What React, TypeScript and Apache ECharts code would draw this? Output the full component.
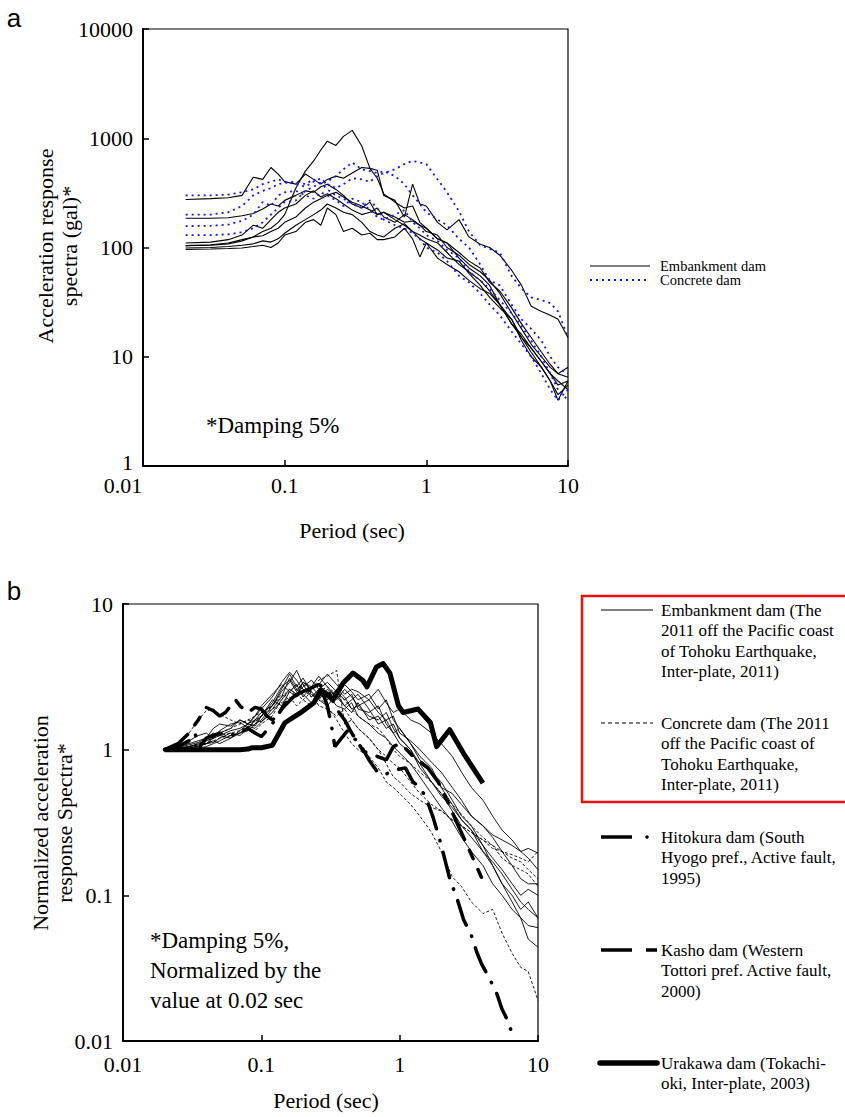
import React, { useEffect, useRef } from "react";
import * as echarts from "echarts";

// ---------- Panel a : acceleration response spectra (gal) ----------
const periodsA = [0.02, 0.03, 0.04, 0.05, 0.06, 0.07, 0.08, 0.09, 0.1, 0.12, 0.14, 0.16, 0.18, 0.2, 0.23, 0.26, 0.3, 0.35, 0.4, 0.45, 0.5, 0.6, 0.7, 0.8, 0.9, 1, 1.2, 1.4, 1.7, 2, 2.4, 2.8, 3.3, 4, 4.7, 5.5, 6.5, 7.5, 8.5, 10];

const embankA1 = [104, 106, 110, 118, 125, 140, 150, 170, 200, 350, 500, 620, 780, 940, 860, 1040, 1180, 850, 530, 430, 310, 260, 230, 240, 170, 150, 120, 110, 80, 65, 55, 45, 30, 22, 15, 12, 9, 7, 6, 5];
const embankA2 = [275, 280, 285, 300, 440, 420, 540, 470, 400, 380, 470, 420, 380, 420, 450, 430, 480, 540, 530, 510, 300, 270, 190, 380, 250, 240, 170, 145, 180, 125, 107, 100, 85, 62, 45, 29, 26, 24, 22, 15];
const embankA3 = [185, 185, 187, 195, 205, 225, 250, 240, 270, 300, 330, 320, 360, 380, 340, 300, 250, 230, 260, 200, 210, 190, 170, 175, 160, 150, 120, 110, 90, 75, 65, 48, 40, 28, 20, 15, 11, 8.5, 7, 6.5];
const embankA4 = [110, 112, 118, 130, 160, 150, 180, 210, 230, 250, 300, 330, 290, 310, 280, 250, 220, 200, 210, 230, 190, 170, 200, 180, 160, 140, 130, 100, 85, 70, 60, 50, 38, 25, 18, 13, 10, 8, 7, 8];
const embankA5 = [104, 105, 108, 115, 125, 128, 140, 150, 170, 190, 230, 260, 280, 300, 320, 290, 260, 240, 220, 200, 210, 180, 160, 140, 130, 120, 110, 90, 70, 60, 50, 40, 30, 20, 16, 12, 9, 7, 5.5, 6];
const embankA6 = [99, 100, 102, 105, 108, 115, 112, 120, 135, 160, 180, 200, 220, 250, 230, 210, 200, 170, 140, 130, 125, 150, 165, 140, 120, 110, 95, 80, 75, 58, 45, 35, 28, 22, 14, 10, 8, 6, 4.5, 5.5];
const embankA7 = [96, 97, 98, 99, 102, 105, 100, 110, 130, 140, 170, 180, 160, 230, 200, 140, 150, 130, 135, 118, 118, 125, 150, 120, 82, 110, 80, 70, 60, 50, 42, 38, 30, 20, 15, 11, 8, 6, 4, 6];

const concreteA1 = [300, 300, 305, 320, 340, 380, 400, 420, 400, 380, 360, 400, 430, 380, 350, 380, 430, 420, 400, 450, 480, 520, 580, 620, 600, 580, 420, 320, 215, 140, 105, 97, 90, 55, 42, 35, 33, 31, 26, 15];
const concreteA2 = [200, 200, 210, 240, 300, 330, 350, 380, 390, 400, 380, 420, 380, 400, 450, 520, 600, 520, 500, 480, 500, 450, 380, 300, 250, 210, 180, 160, 120, 100, 70, 50, 45, 30, 22, 18, 14, 10, 8, 7];
const concreteA3 = [157, 158, 162, 175, 200, 260, 240, 300, 320, 330, 300, 280, 320, 300, 270, 240, 280, 260, 220, 190, 180, 200, 220, 170, 150, 130, 115, 95, 80, 60, 50, 42, 33, 25, 19, 14, 10, 7, 5, 4];
const concreteA4 = [130, 130, 132, 138, 150, 170, 200, 230, 260, 270, 330, 360, 390, 340, 300, 280, 250, 230, 270, 230, 180, 160, 150, 135, 120, 100, 90, 75, 55, 48, 38, 30, 24, 17, 13, 10, 7, 5, 4, 5];

// ---------- Panel b : normalized spectra ----------
const periodsB = [0.02, 0.025, 0.03, 0.035, 0.04, 0.045, 0.05, 0.06, 0.07, 0.08, 0.09, 0.1, 0.12, 0.14, 0.16, 0.18, 0.2, 0.23, 0.26, 0.3, 0.35, 0.4, 0.45, 0.5, 0.6, 0.7, 0.8, 0.9, 1, 1.2, 1.4, 1.7, 2, 2.4, 2.8, 3.3, 4, 4.7, 5.5, 6.5, 7.5, 8.5, 10];

const embankB1 = [1, 1.05, 1.1, 1.15, 1.2, 1.3, 1.25, 1.35, 1.4, 1.5, 1.7, 1.9, 2.3, 2.9, 3.4, 3.0, 2.6, 2.4, 2.2, 2.6, 2.3, 2.8, 2.5, 2.2, 2.4, 1.9, 2.2, 1.6, 1.4, 1.1, 0.9, 0.75, 0.55, 0.5, 0.42, 0.35, 0.3, 0.26, 0.24, 0.22, 0.2, 0.21, 0.195];
const embankB2 = [1, 1.02, 1.05, 1.1, 1.15, 1.2, 1.3, 1.4, 1.6, 1.5, 1.6, 1.8, 2.0, 2.6, 3.3, 2.7, 3.1, 2.5, 2.2, 2.0, 2.4, 2.0, 1.8, 2.1, 1.6, 1.7, 1.4, 1.5, 1.2, 1.0, 0.8, 0.6, 0.5, 0.38, 0.3, 0.25, 0.2, 0.16, 0.12, 0.1, 0.08, 0.09, 0.07];
const embankB3 = [1, 1.0, 1.02, 1.05, 1.1, 1.15, 1.1, 1.2, 1.3, 1.45, 1.4, 1.55, 1.8, 2.2, 2.6, 2.4, 2.7, 3.0, 2.6, 2.9, 2.5, 2.2, 2.4, 1.9, 1.8, 2.0, 1.5, 1.3, 1.4, 1.1, 0.85, 0.7, 0.6, 0.45, 0.35, 0.3, 0.22, 0.16, 0.12, 0.09, 0.07, 0.05, 0.044];
const embankB4 = [1, 1.03, 1.08, 1.12, 1.2, 1.4, 1.5, 1.45, 1.6, 1.5, 1.7, 2.0, 2.4, 2.8, 2.5, 2.3, 2.9, 2.6, 2.8, 3.3, 2.8, 2.4, 2.6, 2.5, 2.2, 2.6, 2.1, 1.8, 1.9, 1.6, 1.5, 1.3, 1.1, 0.9, 0.7, 0.55, 0.45, 0.35, 0.28, 0.24, 0.2, 0.18, 0.15];
const embankB5 = [1, 1.0, 1.0, 1.02, 1.05, 1.1, 1.15, 1.25, 1.3, 1.35, 1.5, 1.6, 2.0, 2.5, 2.9, 3.5, 2.8, 2.3, 2.6, 2.4, 2.0, 1.9, 2.1, 1.7, 1.5, 1.3, 1.2, 1.05, 0.95, 0.8, 0.65, 0.5, 0.4, 0.32, 0.25, 0.2, 0.16, 0.12, 0.1, 0.08, 0.07, 0.062, 0.06];
const embankB6 = [1, 1.05, 1.15, 1.25, 1.3, 1.2, 1.35, 1.5, 1.55, 1.4, 1.6, 1.7, 2.2, 2.0, 2.5, 2.8, 2.3, 2.7, 2.4, 2.2, 2.6, 2.3, 1.9, 2.0, 1.7, 1.6, 1.8, 1.4, 1.2, 1.0, 0.75, 0.6, 0.48, 0.4, 0.33, 0.28, 0.22, 0.18, 0.15, 0.12, 0.1, 0.11, 0.1];
const embankB7 = [1, 1.02, 1.05, 1.08, 1.1, 1.12, 1.2, 1.3, 1.25, 1.4, 1.6, 1.55, 1.9, 2.3, 3.1, 2.6, 2.4, 2.1, 2.3, 2.5, 2.2, 2.6, 2.3, 2.0, 2.2, 1.8, 1.6, 1.7, 1.3, 1.15, 1.0, 0.82, 0.7, 0.55, 0.45, 0.35, 0.3, 0.25, 0.2, 0.16, 0.13, 0.12, 0.12];
const embankB8 = [1, 1.01, 1.03, 1.06, 1.1, 1.2, 1.25, 1.2, 1.35, 1.5, 1.45, 1.7, 2.1, 2.7, 3.0, 2.5, 2.9, 2.7, 3.2, 2.7, 2.3, 2.0, 2.2, 2.4, 1.9, 1.5, 1.6, 1.3, 1.1, 0.95, 0.8, 0.7, 0.55, 0.42, 0.33, 0.28, 0.2, 0.17, 0.14, 0.11, 0.09, 0.08, 0.07];

const concreteB1 = [1, 1.1, 1.3, 1.6, 1.85, 1.9, 1.75, 1.6, 1.5, 1.6, 1.7, 1.8, 2.0, 2.3, 2.6, 2.4, 2.2, 2.0, 2.3, 2.0, 1.6, 1.3, 1.1, 1.0, 0.9, 0.75, 0.6, 0.55, 0.5, 0.42, 0.35, 0.27, 0.2, 0.134, 0.115, 0.09, 0.075, 0.08, 0.055, 0.04, 0.032, 0.03, 0.019];
const concreteB2 = [1, 1.02, 1.05, 1.1, 1.15, 1.2, 1.25, 1.3, 1.35, 1.45, 1.5, 1.7, 2.0, 2.4, 2.2, 2.6, 2.8, 2.6, 3.0, 3.2, 3.5, 1.5, 1.6, 1.4, 1.2, 1.0, 0.9, 0.8, 0.75, 0.6, 0.5, 0.42, 0.38, 0.33, 0.3, 0.27, 0.24, 0.22, 0.2, 0.18, 0.17, 0.15, 0.13];
const concreteB3 = [1, 1.0, 1.05, 1.08, 1.1, 1.15, 1.2, 1.25, 1.3, 1.4, 1.35, 1.5, 1.7, 2.2, 2.5, 2.8, 2.6, 2.3, 2.5, 2.7, 2.4, 2.2, 1.9, 1.7, 1.5, 1.4, 1.2, 1.0, 0.9, 0.8, 0.7, 0.6, 0.5, 0.42, 0.36, 0.3, 0.25, 0.22, 0.18, 0.16, 0.15, 0.14, 0.115];
const concreteB4 = [1, 1.02, 1.04, 1.06, 1.1, 1.2, 1.3, 1.4, 1.5, 1.6, 1.55, 1.7, 1.9, 2.1, 2.3, 2.0, 2.2, 2.5, 2.0, 1.9, 1.7, 1.9, 1.6, 1.4, 1.2, 1.0, 0.8, 0.65, 0.6, 0.5, 0.45, 0.4, 0.38, 0.33, 0.3, 0.27, 0.24, 0.21, 0.2, 0.19, 0.18, 0.17, 0.2];

const hitokuraPeriods = [0.02, 0.025, 0.03, 0.033, 0.036, 0.04, 0.05, 0.06, 0.07, 0.08, 0.09, 0.1, 0.12, 0.14, 0.17, 0.2, 0.24, 0.28, 0.3, 0.32, 0.34, 0.38, 0.42, 0.46, 0.5, 0.6, 0.7, 0.8, 0.9, 1.1, 1.25, 1.4, 1.55, 1.75, 2, 2.3, 2.6, 2.9, 3.3, 3.6, 3.9, 4.4, 5, 5.5, 6, 6.6];
const hitokuraValues = [1, 1.05, 1.15, 1.3, 1.05, 1.2, 1.3, 1.25, 1.3, 1.4, 1.3, 1.23, 1.5, 1.9, 2.3, 2.5, 2.6, 2.4, 2.0, 1.5, 1.05, 1.2, 1.35, 1.2, 1.15, 0.85, 0.69, 0.68, 0.72, 0.75, 0.6, 0.55, 0.47, 0.34, 0.22, 0.13, 0.095, 0.068, 0.053, 0.041, 0.034, 0.0275, 0.0216, 0.0165, 0.014, 0.0108];

const kashoPeriods = [0.02, 0.025, 0.03, 0.035, 0.04, 0.045, 0.05, 0.055, 0.065, 0.07, 0.08, 0.09, 0.1, 0.11, 0.12, 0.13, 0.15, 0.18, 0.22, 0.26, 0.3, 0.35, 0.4, 0.45, 0.55, 0.65, 0.8, 0.9, 1, 1.1, 1.25, 1.4, 1.6, 1.9, 2.2, 2.5, 2.9, 3.3, 3.9];
const kashoValues = [1, 1.1, 1.3, 1.6, 1.95, 1.85, 1.7, 1.8, 2.2, 2.0, 1.8, 1.95, 1.9, 1.7, 1.6, 1.7, 2.1, 2.4, 2.6, 2.8, 2.6, 1.9, 1.6, 1.3, 0.97, 0.92, 0.85, 1.05, 1.1, 1.02, 0.9, 0.83, 0.75, 0.6, 0.45, 0.34, 0.25, 0.19, 0.133];

const urakawaPeriods = [0.02, 0.03, 0.04, 0.05, 0.06, 0.07, 0.08, 0.085, 0.1, 0.12, 0.148, 0.19, 0.24, 0.27, 0.33, 0.39, 0.46, 0.54, 0.58, 0.68, 0.76, 0.85, 0.98, 1.06, 1.36, 1.67, 1.85, 2.3, 2.9, 4.0];
const urakawaValues = [1, 1, 1, 1, 1, 1, 1.01, 1.03, 1.03, 1.07, 1.53, 1.78, 2.1, 2.57, 2.2, 2.87, 3.36, 3.0, 2.7, 3.7, 3.9, 3.35, 2.0, 1.8, 1.9, 1.53, 1.05, 1.37, 0.94, 0.59];

const legendA = ["Embankment dam", "Concrete dam"];
const legendB = [
  "Embankment dam (The\n2011 off the Pacific coast\nof Tohoku Earthquake,\nInter-plate, 2011)",
  "Concrete dam (The 2011\noff the Pacific coast of\nTohoku Earthquake,\nInter-plate, 2011)",
  "Hitokura dam (South\nHyogo pref., Active fault,\n1995)",
  "Kasho dam (Western\nTottori pref. Active fault,\n2000)",
  "Urakawa dam (Tokachi-\noki, Inter-plate, 2003)",
];

const SERIF = '"Liberation Serif", "Times New Roman", serif';
const SANS = '"Liberation Sans", Arial, sans-serif';

const pairs = (ts: number[], vs: number[]) => ts.map((t, i) => [t, vs[i]]);
const fmt = (v: number) => String(Number(Number(v).toPrecision(6)));

function line(idx: number, ts: number[], vs: number[], ls: any, z = 2) {
  return {
    type: "line",
    xAxisIndex: idx,
    yAxisIndex: idx,
    data: pairs(ts, vs),
    symbol: "none",
    silent: true,
    z,
    lineStyle: ls,
  };
}

const isMin = (v: number, min: number) => Math.abs(v - min) < min * 1e-6;

function xAxisDef(grid: number, min: number, max: number, margin: number, shiftFirst: boolean) {
  return {
    gridIndex: grid,
    type: "log",
    logBase: 10,
    min,
    max,
    axisLine: { show: true, onZero: false, lineStyle: { color: "#000", width: 2 } },
    axisTick: { show: true, inside: true, length: 6, lineStyle: { color: "#000", width: 1.5 } },
    minorTick: { show: false },
    splitLine: { show: false },
    axisLabel: {
      color: "#000",
      fontFamily: SERIF,
      fontSize: 22,
      lineHeight: 18,
      margin,
      formatter: (v: number) => (shiftFirst && isMin(v, min) ? "{l|" + fmt(v) + "}" : fmt(v)),
      rich: { l: { fontFamily: SERIF, fontSize: 22, lineHeight: 18, color: "#000", padding: [0, 40, 0, 0] } },
    },
  };
}
function yAxisDef(grid: number, min: number, max: number, liftFirst: boolean) {
  return {
    gridIndex: grid,
    type: "log",
    logBase: 10,
    min,
    max,
    axisLine: { show: true, onZero: false, lineStyle: { color: "#000", width: 2 } },
    axisTick: { show: true, inside: true, length: 6, lineStyle: { color: "#000", width: 1.5 } },
    minorTick: { show: false },
    splitLine: { show: false },
    axisLabel: {
      color: "#000",
      fontFamily: SERIF,
      fontSize: 22,
      lineHeight: 18,
      margin: 10,
      formatter: (v: number) => (liftFirst && isMin(v, min) ? "{u|" + fmt(v) + "}" : fmt(v)),
      rich: { u: { fontFamily: SERIF, fontSize: 22, lineHeight: 18, color: "#000", padding: [0, 0, 8, 0] } },
    },
  };
}

export default function App() {
  const ref = useRef<HTMLDivElement>(null);
  useEffect(() => {
    if (!ref.current) return;
    const chart = echarts.init(ref.current, null, { renderer: "svg" });

    const blk = (w: number) => ({ color: "#000", width: w, type: "solid" });
    const blueDot = { color: "#1010ff", width: 1.8, type: [2, 4] };
    const thinDash = { color: "#000", width: 0.9, type: [3, 2] };
    const hitokuraStyle = { color: "#000", width: 3.5, type: [26, 12, 0.5, 12], cap: "round" };
    const kashoStyle = { color: "#000", width: 3.5, type: [28, 12, 9, 12], cap: "round" };

    const series: any[] = [
      ...[embankA1, embankA2, embankA3, embankA4, embankA5, embankA6, embankA7].map((v) => line(0, periodsA, v, blk(1.1))),
      ...[concreteA1, concreteA2, concreteA3, concreteA4].map((v) => line(0, periodsA, v, blueDot, 3)),
      ...[embankB1, embankB2, embankB3, embankB4, embankB5, embankB6, embankB7, embankB8].map((v) => line(1, periodsB, v, blk(0.9))),
      ...[concreteB1, concreteB2, concreteB3, concreteB4].map((v) => line(1, periodsB, v, thinDash)),
      line(1, hitokuraPeriods, hitokuraValues, hitokuraStyle, 4),
      line(1, kashoPeriods, kashoValues, kashoStyle, 4),
      line(1, urakawaPeriods, urakawaValues, { color: "#000", width: 5, type: "solid", join: "round" }, 5),
    ];

    const txt = (x: number, y: number, text: string, size: number, extra: any = {}, family = SERIF) => ({
      type: "text",
      x,
      y,
      silent: true,
      style: { text, fill: "#000", font: `${size}px ${family}`, ...extra },
    });
    const seg = (x1: number, x2: number, y: number, style: any) => ({
      type: "line",
      silent: true,
      shape: { x1, y1: y, x2, y2: y },
      style,
    });

    const graphics: any[] = [
      txt(14, 18, "a", 26, { align: "center", verticalAlign: "middle" }, SANS),
      txt(14, 591, "b", 26, { align: "center", verticalAlign: "middle" }, SANS),
      txt(352, 530, "Period (sec)", 22, { align: "center", verticalAlign: "middle" }),
      txt(326, 1100, "Period (sec)", 22, { align: "center", verticalAlign: "middle" }),
      {
        type: "text", x: 57, y: 246, rotation: Math.PI / 2, silent: true,
        style: { text: "Acceleration response\nspectra (gal)*", fill: "#000", font: `22px ${SERIF}`, align: "center", verticalAlign: "middle", lineHeight: 24 },
      },
      {
        type: "text", x: 52, y: 823, rotation: Math.PI / 2, silent: true,
        style: { text: "Normalized acceleration\nresponse Spectra*", fill: "#000", font: `22px ${SERIF}`, align: "center", verticalAlign: "middle", lineHeight: 24 },
      },
      txt(206, 425, "*Damping 5%", 23, { verticalAlign: "middle" }),
      txt(150, 925, "*Damping 5%,\nNormalized by the\nvalue at 0.02 sec", 23, { verticalAlign: "top", lineHeight: 30 }),
      // legend a
      seg(590, 650, 266, { stroke: "#000", lineWidth: 1.1 }),
      txt(660, 266, legendA[0], 14.5, { verticalAlign: "middle" }),
      seg(590, 650, 280, { stroke: "#1010ff", lineWidth: 1.8, lineDash: [2, 4] }),
      txt(660, 280, legendA[1], 14.5, { verticalAlign: "middle" }),
      // legend b
      { type: "rect", silent: true, shape: { x: 582, y: 596, width: 290, height: 206 }, style: { fill: "none", stroke: "#ee1111", lineWidth: 2.5 } },
      seg(601, 653, 610, { stroke: "#000", lineWidth: 1 }),
      txt(661, 600, legendB[0], 17, { verticalAlign: "top", lineHeight: 20.5 }),
      seg(601, 653, 723, { stroke: "#000", lineWidth: 1, lineDash: [4, 3] }),
      txt(661, 713, legendB[1], 17, { verticalAlign: "top", lineHeight: 20.5 }),
      seg(601, 632, 837, { stroke: "#000", lineWidth: 3.5 }),
      { type: "circle", silent: true, shape: { cx: 647, cy: 837, r: 1.8 }, style: { fill: "#000" } },
      txt(661, 827, legendB[2], 17, { verticalAlign: "top", lineHeight: 20.5 }),
      seg(601, 632, 950, { stroke: "#000", lineWidth: 3.5 }),
      seg(646, 657, 950, { stroke: "#000", lineWidth: 3.5 }),
      txt(661, 940, legendB[3], 17, { verticalAlign: "top", lineHeight: 20.5 }),
      seg(600, 657, 1063, { stroke: "#000", lineWidth: 5.5, lineCap: "round" }),
      txt(661, 1053, legendB[4], 17, { verticalAlign: "top", lineHeight: 20.5 }),
    ];

    chart.setOption({
      animation: false,
      backgroundColor: "#fff",
      grid: [
        { left: 143, top: 29, width: 425, height: 437, show: true, borderColor: "#000", borderWidth: 1.2, backgroundColor: "transparent" },
        { left: 123, top: 604, width: 415, height: 437, show: true, borderColor: "#000", borderWidth: 1.2, backgroundColor: "transparent" },
      ],
      xAxis: [xAxisDef(0, 0.01, 10, 10, true), xAxisDef(1, 0.01, 10, 14, false)],
      yAxis: [yAxisDef(0, 1, 10000, true), yAxisDef(1, 0.01, 10, false)],
      series,
      graphic: graphics,
    });
    return () => chart.dispose();
  }, []);
  return (
    <div
      ref={ref}
      style={{ position: "absolute", left: 0, top: 0, width: 845, height: 1117, background: "#fff" }}
    />
  );
}
